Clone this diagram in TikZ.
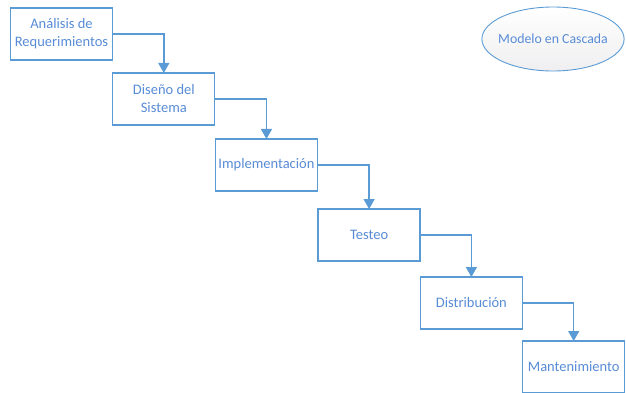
\documentclass[tikz,border=0pt]{standalone}
\usepackage{fontspec}
\setmainfont{Carlito}
\usetikzlibrary{shapes.geometric, arrows.meta, positioning}
\definecolor{cascblue}{RGB}{91,155,213}
\definecolor{casctext}{RGB}{88,140,214}
\tikzstyle{block}=[draw=cascblue,fill=white,rectangle,line width=1.2pt,minimum width=102pt,minimum height=52pt,align=center,text=casctext,outer sep=0pt]
\tikzstyle{every node}=[font=\fontsize{14.5}{18}\selectfont]
\tikzstyle{link}=[->,draw=cascblue,line width=1.4pt]

\begin{document}
\begin{tikzpicture}[x=1pt,y=-1pt,>={Triangle[width=11pt,length=10pt]}]
  \useasboundingbox (0,0) rectangle (626,393);
  \node[block] (analisis) at (61.5,34) {Análisis de\\Requerimientos};
  \node[block, below right=13pt and 0.3pt of analisis] (diseno) {Diseño del\\Sistema};
  \node[block, below right=14pt and 0.3pt of diseno] (implementacion) {Implementación};
  \node[block, below right=18pt and 0.3pt of implementacion] (testeo) {Testeo};
  \node[block, below right=16pt and 0.3pt of testeo] (distribucion) {Distribución};
  \node[block, below right=12pt and 0.3pt of distribucion] (mantenimiento) {Mantenimiento};
  \node[ellipse, draw=cascblue, line width=0.9pt, inner xsep=-4.5pt, minimum height=64pt,
        top color=white, bottom color=blue!6!gray!12, text=casctext,
        font=\fontsize{13.8}{16}\selectfont] (modelo) at (553,39) {Modelo en Cascada};
  \draw[link] (analisis.east) -| (diseno.north);
  \draw[link] (diseno.east) -| (implementacion.north);
  \draw[link] (implementacion.east) -| (testeo.north);
  \draw[link] (testeo.east) -| (distribucion.north);
  \draw[link] (distribucion.east) -| (mantenimiento.north);
\end{tikzpicture}
\end{document}
